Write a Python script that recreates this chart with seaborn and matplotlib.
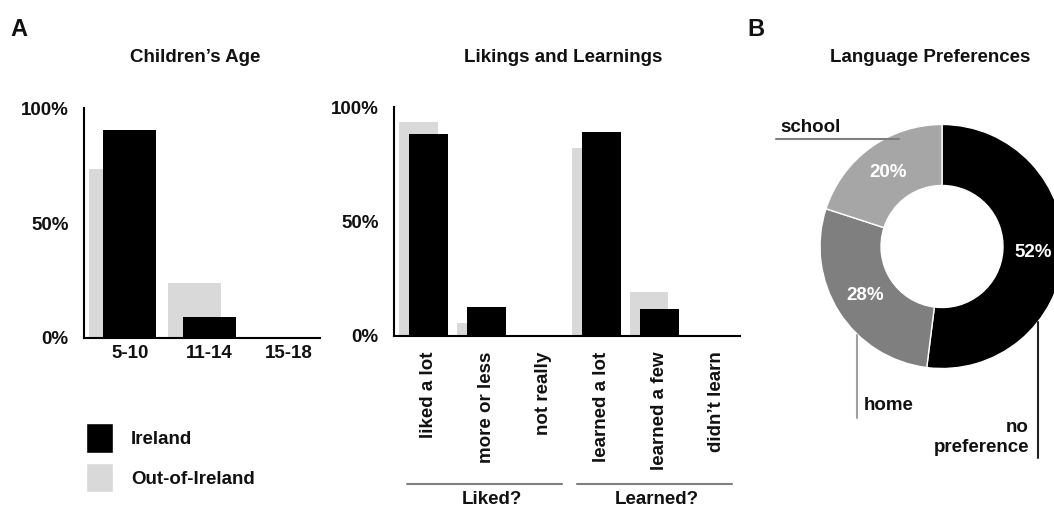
import seaborn as sns
import matplotlib.pyplot as plt
from matplotlib.patches import Patch

# Data
age_groups = ["5-10", "11-14", "15-18"]
age_ireland = [90.5, 9, 0]
age_out = [73.5, 24, 0]

ll_cats = ["liked a lot", "more or less", "not really",
           "learned a lot", "learned a few", "didn’t learn"]
ll_ireland = [88, 12.5, 0, 89, 12, 0]
ll_out = [93.5, 5.5, 0, 82, 19, 0]

pref_labels = ["no preference", "home", "school"]
pref_values = [52, 28, 20]

# Style
IRL = "black"
OUT = "#d9d9d9"
PIE_COLORS = ["#000000", "#7f7f7f", "#a6a6a6"]
TXT = "#111111"
W, H = 1054, 508
FS = 13.5

sns.set_theme(style="white")
plt.rcParams["font.family"] = ["Liberation Sans", "DejaVu Sans"]
plt.rcParams["font.weight"] = "bold"
plt.rcParams["text.color"] = TXT
plt.rcParams["xtick.color"] = TXT
plt.rcParams["ytick.color"] = TXT


def fx(px):
    return px / W


def fy(py):
    return 1 - py / H


def overlap_bars(ax, cats, irl, out, shift=0.18, width=0.67):
    # grey series sits behind, nudged to the left
    sns.barplot(x=cats, y=out, color=OUT, width=width, saturation=1,
                linewidth=0, ax=ax)
    for p in ax.patches:
        p.set_x(p.get_x() - shift)
    sns.barplot(x=cats, y=irl, color=IRL, width=width, saturation=1,
                linewidth=0, ax=ax)


def style_axis(ax):
    ax.set_ylim(0, 100)
    ax.set_yticks([0, 50, 100])
    ax.set_yticklabels(["0%", "50%", "100%"], fontsize=FS, fontweight="bold")
    ax.set_xlabel("")
    ax.set_ylabel("")
    sns.despine(ax=ax)
    for s in ["left", "bottom"]:
        ax.spines[s].set_linewidth(1.5)
        ax.spines[s].set_color("black")
    ax.tick_params(length=0)
    ax.tick_params(axis="y", pad=11)


fig = plt.figure(figsize=(W / 100, H / 100), dpi=100)

# Children's age
ax1 = fig.add_axes([fx(84), fy(338), fx(320) - fx(84), (338 - 108) / H])
overlap_bars(ax1, age_groups, age_ireland, age_out)
style_axis(ax1)
ax1.set_xlim(-0.58, 2.4)
ax1.set_xticks(range(len(age_groups)))
ax1.set_xticklabels(age_groups, fontsize=FS, fontweight="bold")
ax1.tick_params(axis="x", pad=5)

# Likings and learnings
ax2 = fig.add_axes([fx(394), fy(336), fx(740) - fx(394), (336 - 107) / H])
overlap_bars(ax2, ll_cats, ll_ireland, ll_out)
style_axis(ax2)
ax2.set_xlim(-0.6, 5.4)
ax2.set_xticks(range(len(ll_cats)))
ax2.set_xticklabels(ll_cats, rotation=90, fontsize=FS, fontweight="bold")
ax2.tick_params(axis="x", pad=11)

tr = ax2.get_xaxis_transform()
for x0, x1, xt, name in [(-0.37, 2.31, 1.1, "Liked?"), (2.57, 5.26, 3.96, "Learned?")]:
    ax2.plot([x0, x1], [-0.646, -0.646], color="#808080", lw=1.5,
             transform=tr, clip_on=False)
    ax2.text(xt, -0.716, name, transform=tr, ha="center", va="center",
             fontsize=FS, fontweight="bold")

# Legend
fig.legend(handles=[Patch(facecolor=IRL), Patch(facecolor=OUT)],
           labels=["Ireland", "Out-of-Ireland"],
           loc="upper left", bbox_to_anchor=(fx(86), fy(423)),
           frameon=False, borderpad=0, borderaxespad=0,
           handlelength=1.45, handleheight=2.05, handletextpad=0.95,
           labelspacing=0.55, prop={"size": FS, "weight": "bold"})

# Language preferences donut
ax3 = fig.add_axes([fx(740), 0, 1 - fx(740), 1])
ax3.pie(pref_values, colors=PIE_COLORS, startangle=90, counterclock=False,
        wedgeprops=dict(width=0.5, edgecolor="white", linewidth=1),
        autopct=lambda p: f"{p:.0f}%", pctdistance=0.75,
        textprops=dict(color="white", fontsize=FS, fontweight="bold"))
ax3.set_aspect("auto")
ax3.set_xlim(-1.656, 0.918)
ax3.set_ylim(-2.143, 2.02)
ax3.axis("off")

# leader lines
ax3.plot([-1.361, -0.352], [0.881, 0.881], color="#7f7f7f", lw=1.5, clip_on=False)
ax3.text(-1.328, 0.975, "school", ha="left", va="center", fontsize=FS, fontweight="bold")
ax3.plot([-0.697, -0.697], [-0.725, -1.406], color="#a0a0a0", lw=1.5, clip_on=False)
ax3.text(-0.639, -1.299, "home", ha="left", va="center", fontsize=FS, fontweight="bold")
ax3.plot([0.787, 0.787], [-0.619, -1.734], color="#222222", lw=1.5, clip_on=False)
ax3.text(0.713, -1.566, "no\npreference", ha="right", va="center",
         multialignment="right", fontsize=FS, fontweight="bold", linespacing=1.2)

# Titles and panel letters
fig.text(fx(195), fy(57), "Children’s Age", ha="center", va="center", fontsize=FS, fontweight="bold")
fig.text(fx(563), fy(57), "Likings and Learnings", ha="center", va="center", fontsize=FS, fontweight="bold")
fig.text(fx(930), fy(58), "Language Preferences", ha="center", va="center", fontsize=FS, fontweight="bold")
fig.text(fx(10), fy(29), "A", ha="left", va="center", fontsize=17, fontweight="bold")
fig.text(fx(747), fy(29), "B", ha="left", va="center", fontsize=17, fontweight="bold")

fig.savefig("out.png", dpi=100)
